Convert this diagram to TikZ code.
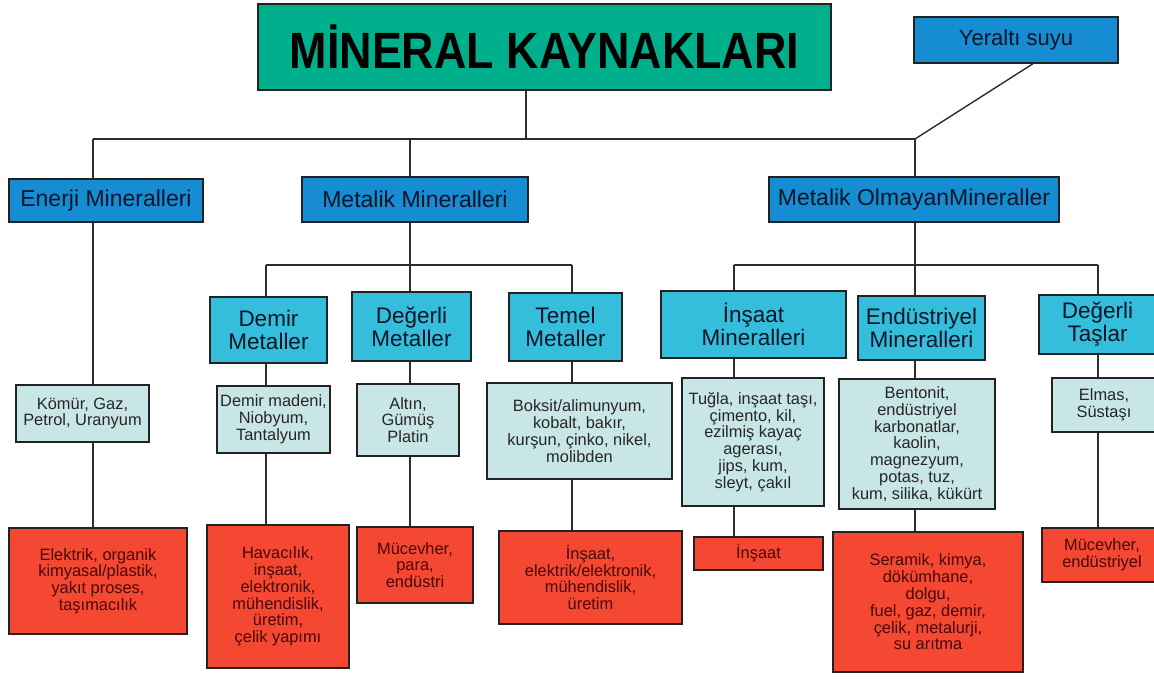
\documentclass[tikz,border=0pt]{standalone}
\usepackage{fontspec}
\setmainfont{Liberation Sans}
\usepackage{graphicx}
\definecolor{teal1}{RGB}{0,176,140}
\definecolor{blue1}{RGB}{22,140,210}
\definecolor{cyan2}{RGB}{53,190,220}
\definecolor{light3}{RGB}{200,230,230}
\definecolor{red4}{RGB}{245,72,50}
\definecolor{bordc}{RGB}{34,34,34}
\definecolor{linec}{RGB}{45,45,45}
\definecolor{txtd}{RGB}{12,22,40}
\definecolor{txtr}{RGB}{70,8,8}
\tikzset{
  box/.style={draw=bordc, line width=1.4pt, inner sep=0pt, align=center, anchor=center},
  titlebox/.style={box, fill=teal1, text=black},
  lvlone/.style={box, fill=blue1, text=txtd, font={\fontsize{23}{24}\selectfont}},
  lvltwo/.style={box, fill=cyan2, text=txtd, font={\fontsize{22.5}{23}\selectfont}},
  lvlthree/.style={box, fill=light3, text=black!85, font={\fontsize{16.4}{16.8}\selectfont}},
  lvlfour/.style={box, fill=red4, text=txtr, font={\fontsize{16.4}{16.8}\selectfont}},
  conn/.style={draw=linec, line width=1.4pt}
}
\begin{document}
\begin{tikzpicture}[x=1pt,y=-1pt]
\clip (0,0) rectangle (1154,678);
\fill[white] (0,0) rectangle (1154,678);

% bus coordinates
\coordinate (j0) at (526,139);
\coordinate (jA) at (93,139);
\coordinate (jM) at (410,139);
\coordinate (jN) at (915,139);
\coordinate (dY) at (1033,0);
\coordinate (k2) at (410,265);
\coordinate (j2L) at (266,265);
\coordinate (j2R) at (572,265);
\coordinate (k3) at (915,265);
\coordinate (j3L) at (734,265);
\coordinate (j3R) at (1098,265);

% horizontal buses
\draw[conn] (jA) -- (jN);
\draw[conn] (j2L) -- (j2R);
\draw[conn] (j3L) -- (j3R);

% nodes
\node[titlebox, minimum width=573pt, minimum height=86pt] (title) at (544.5,47)
  {\scalebox{0.88}[1]{\bfseries\fontsize{51}{51}\selectfont MİNERAL KAYNAKLARI}};
\node[lvlone, font={\fontsize{22}{23}\selectfont}, minimum width=204pt, minimum height=46pt] (yer) at (1016,40) {Yeraltı suyu};

\node[lvlone, minimum width=194pt, minimum height=43pt] (ener) at (106,200.5) {Enerji Mineralleri};
\node[lvlone, minimum width=226pt, minimum height=45pt] (metal) at (415,199.5) {Metalik Mineralleri};
\node[lvlone, minimum width=290pt, minimum height=45pt] (nonmet) at (914,199.5) {Metalik OlmayanMineraller};

\node[lvltwo, minimum width=117pt, minimum height=66pt] (demir) at (268.5,330) {Demir\\Metaller};
\node[lvltwo, minimum width=119pt, minimum height=69pt] (degm) at (411.5,326.5) {Değerli\\Metaller};
\node[lvltwo, minimum width=113pt, minimum height=68pt] (temel) at (565.5,327) {Temel\\Metaller};
\node[lvltwo, minimum width=185pt, minimum height=67pt] (insm) at (753.5,324.5) {İnşaat\\Mineralleri};
\node[lvltwo, minimum width=127pt, minimum height=64pt] (endm) at (921.5,328) {Endüstriyel\\Mineralleri};
\node[lvltwo, minimum width=117pt, minimum height=59pt] (degt) at (1097.5,324.5) {Değerli\\Taşlar};

\node[lvlthree, minimum width=133pt, minimum height=57pt] (komur) at (82.5,413.5) {Kömür, Gaz,\\Petrol, Uranyum};
\node[lvlthree, minimum width=113pt, minimum height=67pt] (dmad) at (273.5,419.5) {Demir madeni,\\Niobyum,\\Tantalyum};
\node[lvlthree, minimum width=102pt, minimum height=72pt] (altin) at (408,420) {Altın,\\Gümüş\\Platin};
\node[lvlthree, minimum width=185pt, minimum height=96pt] (boksit) at (579.5,431) {Boksit/alimunyum,\\kobalt, bakır,\\kurşun, çinko, nikel,\\molibden};
\node[lvlthree, minimum width=142pt, minimum height=128pt] (tugla) at (753,442) {Tuğla, inşaat taşı,\\çimento, kil,\\ezilmiş kayaç\\agerası,\\jips, kum,\\sleyt, çakıl};
\node[lvlthree, minimum width=156pt, minimum height=130pt] (bent) at (917,444) {Bentonit,\\endüstriyel\\karbonatlar,\\kaolin,\\magnezyum,\\potas, tuz,\\kum, silika, kükürt};
\node[lvlthree, minimum width=104pt, minimum height=54pt] (elmas) at (1104,405) {Elmas,\\Süstaşı};

\node[lvlfour, minimum width=178pt, minimum height=106pt] (r1) at (98,581) {Elektrik, organik\\kimyasal/plastik,\\yakıt proses,\\taşımacılık};
\node[lvlfour, minimum width=142pt, minimum height=143pt] (r2) at (278,596.5) {Havacılık,\\inşaat,\\elektronik,\\mühendislik,\\üretim,\\çelik yapımı};
\node[lvlfour, minimum width=116pt, minimum height=76pt] (r3) at (415,565) {Mücevher,\\para,\\endüstri};
\node[lvlfour, minimum width=183pt, minimum height=93pt] (r4) at (590.5,577.5) {İnşaat,\\elektrik/elektronik,\\mühendislik,\\üretim};
\node[lvlfour, minimum width=129pt, minimum height=33pt] (r5) at (758.5,553.5) {İnşaat};
\node[lvlfour, minimum width=190pt, minimum height=140pt] (r6) at (928,602) {Seramik, kimya,\\dökümhane,\\dolgu,\\fuel, gaz, demir,\\çelik, metalurji,\\su arıtma};
\node[lvlfour, minimum width=120pt, minimum height=54pt] (r7) at (1102,555) {Mücevher,\\endüstriyel};

% vertical connectors
\draw[conn] (title.south -| j0) -- (j0);
\draw[conn] (jA) -- (ener.north -| jA);
\draw[conn] (jM) -- (metal.north -| jM);
\draw[conn] (jN) -- (nonmet.north -| jN);
\draw[conn] (jN) -- (yer.south -| dY);

\draw[conn] (ener.south -| jA) -- (komur.north -| jA);
\draw[conn] (komur.south -| jA) -- (r1.north -| jA);

\draw[conn] (metal.south -| k2) -- (k2);
\draw[conn] (j2L) -- (demir.north -| j2L);
\draw[conn] (k2) -- (degm.north -| k2);
\draw[conn] (j2R) -- (temel.north -| j2R);
\draw[conn] (demir.south -| j2L) -- (dmad.north -| j2L);
\draw[conn] (dmad.south -| j2L) -- (r2.north -| j2L);
\draw[conn] (degm.south -| k2) -- (altin.north -| k2);
\draw[conn] (altin.south -| k2) -- (r3.north -| k2);
\draw[conn] (temel.south -| j2R) -- (boksit.north -| j2R);
\draw[conn] (boksit.south -| j2R) -- (r4.north -| j2R);

\draw[conn] (nonmet.south -| k3) -- (k3);
\draw[conn] (j3L) -- (insm.north -| j3L);
\draw[conn] (k3) -- (endm.north -| k3);
\draw[conn] (j3R) -- (degt.north -| j3R);
\draw[conn] (insm.south -| j3L) -- (tugla.north -| j3L);
\draw[conn] (tugla.south -| j3L) -- (r5.north -| j3L);
\draw[conn] (endm.south -| k3) -- (bent.north -| k3);
\draw[conn] (bent.south -| k3) -- (r6.north -| k3);
\draw[conn] (degt.south -| j3R) -- (elmas.north -| j3R);
\draw[conn] (elmas.south -| j3R) -- (r7.north -| j3R);
\end{tikzpicture}
\end{document}
